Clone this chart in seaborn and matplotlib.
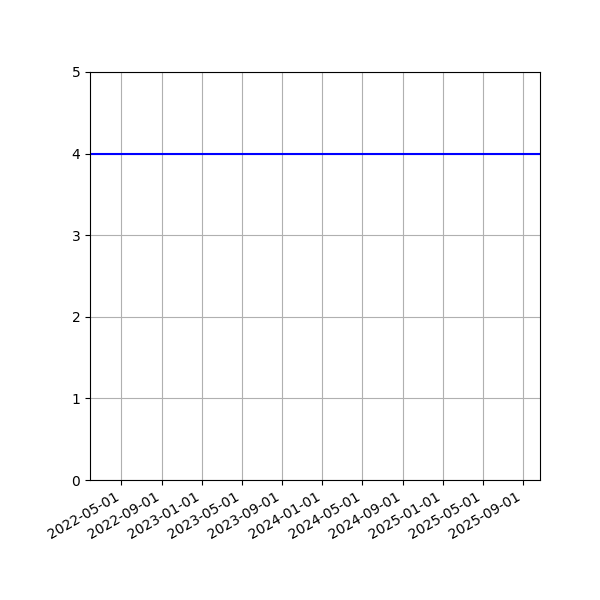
import matplotlib
matplotlib.use("Agg")
import matplotlib.pyplot as plt
import matplotlib.dates as mdates
import seaborn as sns
import pandas as pd

dates = ["2022-01-26", "2025-10-22"]
values = [4, 4]

df = pd.DataFrame({"date": pd.to_datetime(dates), "value": values})

fig = plt.figure(figsize=(6, 6), dpi=100)
ax = fig.add_axes([0.15, 0.2, 0.75, 0.68])
sns.lineplot(data=df, x="date", y="value", ax=ax, color="blue", linewidth=1.5)
ax.set_xlim(df["date"].min(), df["date"].max())
ax.set_ylim(0, 5)
ax.xaxis.set_major_locator(mdates.MonthLocator(bymonth=[1, 5, 9], bymonthday=1))
ax.xaxis.set_major_formatter(mdates.DateFormatter("%Y-%m-%d"))
ax.grid(True)
ax.set_xlabel("")
ax.set_ylabel("")
for lbl in ax.get_xticklabels():
    lbl.set_rotation(30)
    lbl.set_ha("right")
fig.savefig("out.png", dpi=100)
